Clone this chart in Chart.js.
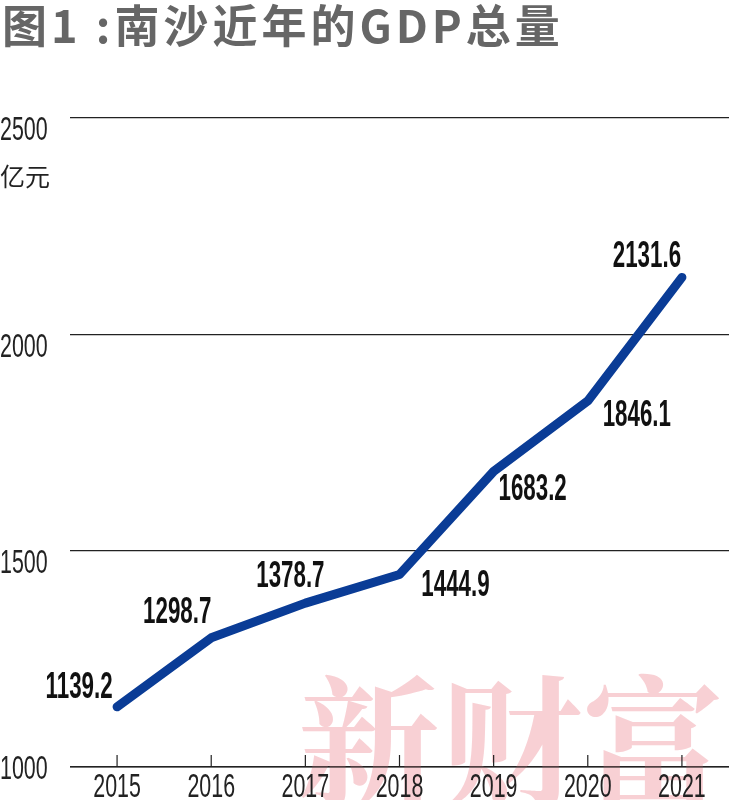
<!DOCTYPE html>
<html><head><meta charset="utf-8">
<script src="https://cdn.jsdelivr.net/npm/chart.js@4"></script>
<style>html,body{margin:0;padding:0;background:#fff}#c{display:block}</style>
</head><body>
<div style="width:732px;height:800px"><canvas id="c"></canvas></div>
<script>
const years = ['2015','2016','2017','2018','2019','2020','2021'];
const gdp = [1139.2, 1298.7, 1378.7, 1444.9, 1683.2, 1846.1, 2131.6];
const yTicks = [1000, 1500, 2000, 2500];
const title = '图1 :南沙近年的GDP总量';
const unit = '亿元';
const watermark = '新财富';
const FONT = "'Liberation Sans',sans-serif";
const labelOffsets = [[-38,-19],[-34,-25],[-15,-26],[56,12],[39,19],[49,15],[-35,-20]];

function narrowText(ctx, text, x, y, sx){
  ctx.save(); ctx.translate(x,y); ctx.scale(sx,1); ctx.fillText(text,0,0); ctx.restore();
}

const deco = {
  id:'deco',
  beforeDatasetsDraw(chart){
    const {ctx, chartArea:a, scales:{x,y}} = chart;
    ctx.save();
    ctx.font = "bold 142px 'Noto Serif CJK SC','Noto Sans CJK SC',serif";
    ctx.fillStyle = 'rgba(240,150,160,0.45)';
    ctx.textAlign='left'; ctx.textBaseline='alphabetic';
    ctx.fillText(watermark, 298, 796);
    ctx.strokeStyle='#222'; ctx.lineWidth=1.2;
    ctx.beginPath(); ctx.moveTo(a.left, a.bottom); ctx.lineTo(a.right, a.bottom);
    years.forEach((_,i)=>{const px=x.getPixelForValue(i); ctx.moveTo(px,a.bottom); ctx.lineTo(px,a.bottom-12);});
    ctx.stroke();
    ctx.fillStyle='#222'; ctx.font="34px "+FONT; ctx.textAlign='left'; ctx.textBaseline='middle';
    yTicks.forEach(v=>{ const py=y.getPixelForValue(v); narrowText(ctx, String(v), 0, v===1000?py+3:py+13, 0.63); });
    ctx.font="25px 'Noto Sans CJK SC',sans-serif"; ctx.fillText(unit, 0, 176);
    ctx.textAlign='center'; ctx.font="34px "+FONT;
    years.forEach((t,i)=>narrowText(ctx, t, x.getPixelForValue(i), a.bottom+21, 0.63));
    ctx.font="bold 45px 'Noto Sans CJK SC',sans-serif"; ctx.fillStyle='#666'; ctx.textAlign='left';
    ctx.letterSpacing='4px';
    ctx.fillText(title, 2, 26);
    ctx.restore();
  },
  afterDatasetsDraw(chart){
    const {ctx, scales:{x,y}} = chart;
    ctx.save();
    ctx.font="bold 36px "+FONT; ctx.fillStyle='#111'; ctx.textAlign='center'; ctx.textBaseline='middle';
    gdp.forEach((v,i)=>{const o=labelOffsets[i]; narrowText(ctx, v.toFixed(1), x.getPixelForValue(i)+o[0], y.getPixelForValue(v)+o[1], 0.62);});
    ctx.restore();
  }
};

new Chart(document.getElementById('c'),{
  type:'line',
  data:{labels:years,datasets:[{data:gdp,borderColor:'#0a3c96',borderWidth:9,pointRadius:0,tension:0,borderCapStyle:'round',borderJoinStyle:'round'}]},
  options:{
    responsive:true,maintainAspectRatio:false,animation:false,
    layout:{padding:{top:118,left:0,right:3,bottom:0}},
    plugins:{legend:{display:false},tooltip:{enabled:false},title:{display:false}},
    scales:{
      x:{offset:true,grid:{display:false},border:{display:false},ticks:{display:false},afterFit(s){s.height=33;}},
      y:{min:1000,max:2500,afterBuildTicks(s){s.ticks=yTicks.map(v=>({value:v}));},
         grid:{color:'#222',lineWidth:1.2,drawTicks:false},border:{display:false},ticks:{display:false},afterFit(s){s.width=70;}}
    }
  },
  plugins:[deco]
});
</script></body></html>
